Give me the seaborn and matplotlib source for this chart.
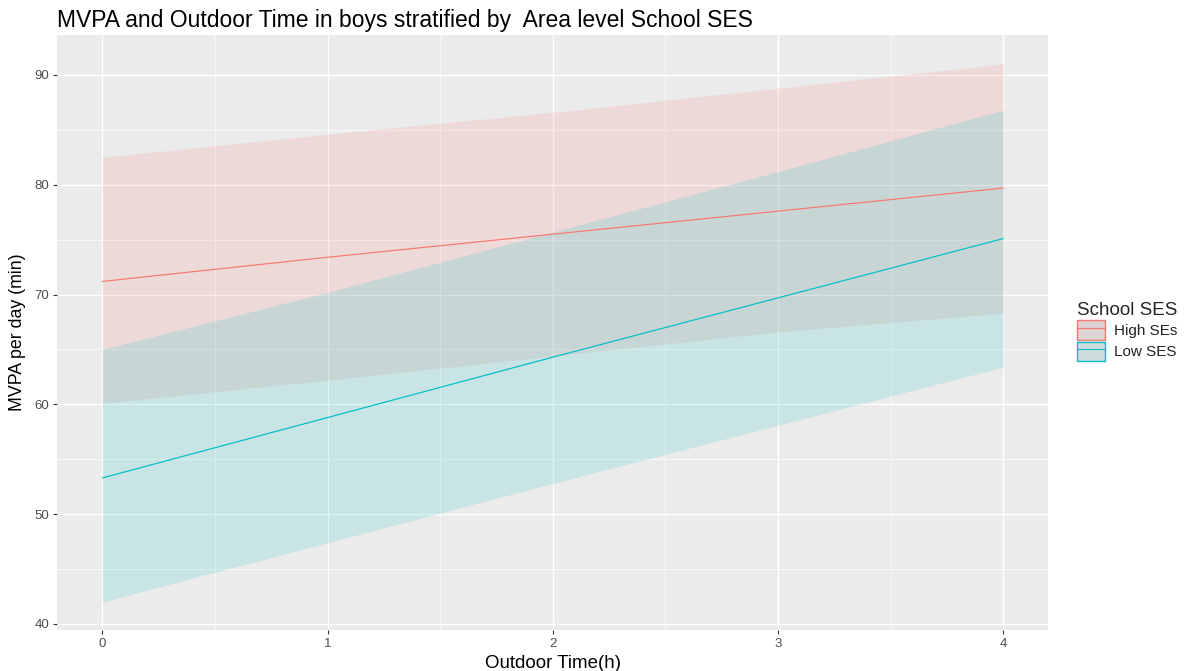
import numpy as np
import pandas as pd
import matplotlib
matplotlib.use('Agg')
import matplotlib.pyplot as plt
from matplotlib.ticker import MultipleLocator
from matplotlib.patches import Patch
from matplotlib.lines import Line2D
import seaborn as sns

# %%
# Predicted MVPA (min/day) by outdoor time
outdoor_h = [0, 1, 2, 3, 4]
high_fit = [71.2, 73.4, 75.5, 77.6, 79.7]
high_lo = [60.1, 62.2, 64.4, 66.6, 68.3]
high_hi = [82.5, 84.6, 86.6, 88.8, 91.0]
low_fit = [53.3, 58.8, 64.3, 69.7, 75.1]
low_lo = [42.0, 47.4, 52.8, 58.1, 63.4]
low_hi = [65.0, 70.2, 75.7, 81.2, 86.8]
groups = ['High SEs', 'Low SES']
colors = ['#F8766D', '#00BFC4']

df = pd.concat([
    pd.DataFrame({'time': outdoor_h, 'mvpa': high_fit, 'lo': high_lo, 'hi': high_hi, 'ses': groups[0]}),
    pd.DataFrame({'time': outdoor_h, 'mvpa': low_fit, 'lo': low_lo, 'hi': low_hi, 'ses': groups[1]}),
], ignore_index=True)

# %%
# ggplot-ish grey theme
sns.set_theme(style='darkgrid', rc={
    'axes.facecolor': '#EBEBEB',
    'grid.color': 'white',
    'axes.edgecolor': '#EBEBEB',
})
plt.rcParams['font.family'] = ['Liberation Sans', 'DejaVu Sans']

fig = plt.figure(figsize=(11.92, 6.71), dpi=100)
ax = fig.add_axes([0.0481, 0.0611, 0.8313, 0.8867])

for g, c in zip(groups, colors):
    sub = df[df['ses'] == g]
    ax.fill_between(sub['time'], sub['lo'], sub['hi'], color=c, alpha=0.15, linewidth=0, zorder=2)

sns.lineplot(data=df, x='time', y='mvpa', hue='ses', hue_order=groups,
             palette=colors, linewidth=0.85, legend=False, ax=ax, zorder=3)

ax.set_xlim(-0.2, 4.2)
ax.set_ylim(39.45, 93.64)
ax.xaxis.set_major_locator(MultipleLocator(1))
ax.xaxis.set_minor_locator(MultipleLocator(0.5))
ax.yaxis.set_major_locator(MultipleLocator(10))
ax.yaxis.set_minor_locator(MultipleLocator(5))
ax.grid(which='major', color='white', linewidth=1.0)
ax.grid(which='minor', color='white', linewidth=0.5)
ax.tick_params(which='major', length=3, width=0.8, color='#333333',
               labelsize=9.5, labelcolor='#4D4D4D', pad=3, bottom=True, left=True)
ax.tick_params(which='minor', length=0)
for s in ax.spines.values():
    s.set_visible(False)

ax.set_xlabel('Outdoor Time(h)', fontsize=13.5, color='black', labelpad=3)
ax.set_ylabel('MVPA per day (min)', fontsize=12.8, color='black', labelpad=6)
ax.set_title('MVPA and Outdoor Time in boys stratified by  Area level School SES',
             loc='left', fontsize=16.5, color='black', pad=5.5)

# %%
# Legend: ribbon key with line on top
handles = []
for c, face in zip(colors, ['#DDD3D2', '#CFDCDC']):
    handles.append((Patch(facecolor=face, edgecolor=c, linewidth=1.0),
                    Line2D([], [], color=c, linewidth=0.85)))
leg = fig.legend(handles, groups, title='School SES', loc='upper left',
                 bbox_to_anchor=(0.9035, 0.550), frameon=False, fontsize=11,
                 title_fontsize=13.5, handlelength=1.83, handleheight=1.6,
                 labelspacing=0.1, handletextpad=0.6, borderpad=0,
                 borderaxespad=0, alignment='left')
for t in leg.get_texts():
    t.set_color('#222222')

fig.savefig('out.png', dpi=100)
